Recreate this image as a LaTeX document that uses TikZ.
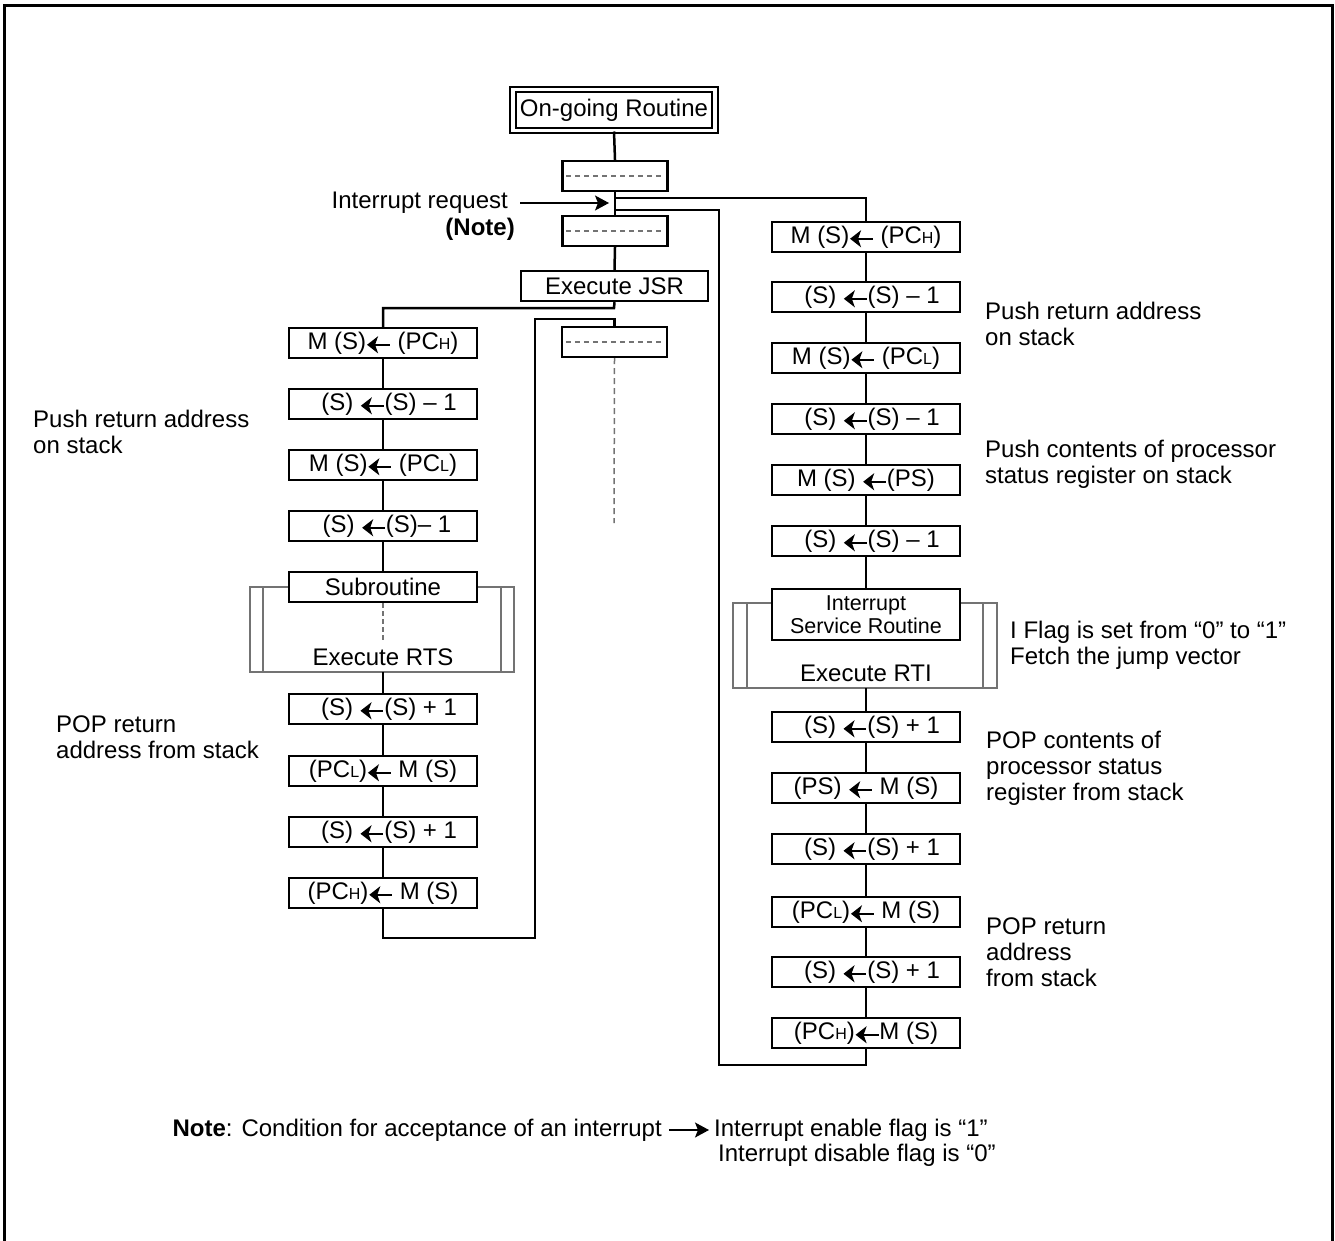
\documentclass[tikz,border=0pt]{standalone}
\usepackage{fontspec}
\setmainfont{Liberation Sans}
\usetikzlibrary{arrows.meta}
\newcommand{\garr}{\tikz[baseline=-0.35ex]\draw[line width=1.6pt,{Stealth[length=11pt,width=17pt,inset=3pt]}-](0pt,0pt)--(23pt,0pt);}
\newcommand{\lowcap}[1]{{\fontsize{16}{18}\selectfont #1}}
\begin{document}
\begin{tikzpicture}[x=1pt,y=-1pt,
  every node/.style={font=\fontsize{24}{26}\selectfont},
  opbox/.style={draw,line width=2.4pt,minimum width=188pt,minimum height=30pt,inner sep=0pt,fill=white},
  dbox/.style={draw,line width=2.4pt,minimum width=105pt,minimum height=30pt,inner sep=0pt},
  conn/.style={line width=2.5pt},
  greyln/.style={draw=black!55,line width=1.2pt},
  lbl/.style={align=left,anchor=west,inner sep=0pt},
  thinarrow/.style={line width=1.2pt,-{Stealth[length=14pt,width=15pt,inset=3pt]}}]
\useasboundingbox (0,0) rectangle (1335,1241);
% frame
\draw[line width=3pt] (4,1241) -- (4,6) -- (1332,6) -- (1332,1241);

% predefined process frames
\draw[greyln] (250,587) rectangle (514,672);
\draw[greyln] (263,587) -- (263,672) (501,587) -- (501,672);
\draw[greyln] (733,603) rectangle (997,688);
\draw[greyln] (747,603) -- (747,688) (983,603) -- (983,688);

% main column
\node[draw,double,double distance=3.5pt,line width=2pt,minimum width=202pt,minimum height=41pt,inner sep=0pt] (ongo) at (614,110) {On-going Routine};
\node[dbox] (d1) at (615,176) {};
\node[dbox] (d2) at (615,231) {};
\node[opbox,minimum width=187pt] (jsr) at (614.5,286) {Execute JSR};
\node[dbox] (d3) at (614.5,342) {};
\foreach \b in {d1,d2,d3}{\draw[greyln,dash pattern=on 5pt off 4pt] ([xshift=5pt]\b.west) -- ([xshift=-6pt]\b.east);}

% left column
\node[opbox] (L1) at (383,343) {M (S)\garr\ (PC\lowcap{H})};
\node[opbox] (L2) at (383,404) {\hspace{12pt}(S) \garr(S) – 1};
\node[opbox] (L3) at (383,465) {M (S)\garr\ (PC\lowcap{L})};
\node[opbox] (L4) at (383,526) {\hspace{8pt}(S) \garr(S)– 1};
\node[opbox] (sub) at (383,587) {Subroutine};
\node[inner sep=0pt] (rts) at (383,657) {Execute RTS};
\node[opbox] (L5) at (383,709) {\hspace{12pt}(S) \garr(S) + 1};
\node[opbox] (L6) at (383,771) {(PC\lowcap{L})\garr\ M (S)};
\node[opbox] (L7) at (383,832) {\hspace{12pt}(S) \garr(S) + 1};
\node[opbox] (L8) at (383,893) {(PC\lowcap{H})\garr\ M (S)};

% right column
\node[opbox] (R1) at (866,237) {M (S)\garr\ (PC\lowcap{H})};
\node[opbox] (R2) at (866,297) {\hspace{12pt}(S) \garr(S) – 1};
\node[opbox] (R3) at (866,358) {M (S)\garr\ (PC\lowcap{L})};
\node[opbox] (R4) at (866,419) {\hspace{12pt}(S) \garr(S) – 1};
\node[opbox] (R5) at (866,480) {M (S) \garr(PS)};
\node[opbox] (R6) at (866,541) {\hspace{12pt}(S) \garr(S) – 1};
\node[opbox,minimum height=51pt,align=center,font=\fontsize{21.5}{23}\selectfont] (isr) at (866,614.5) {Interrupt\\Service Routine};
\node[inner sep=0pt] (rti) at (866,673) {Execute RTI};
\node[opbox] (R7) at (866,727) {\hspace{12pt}(S) \garr(S) + 1};
\node[opbox] (R8) at (866,788) {(PS) \garr\ M (S)};
\node[opbox] (R9) at (866,849) {\hspace{12pt}(S) \garr(S) + 1};
\node[opbox] (R10) at (866,912) {(PC\lowcap{L})\garr\ M (S)};
\node[opbox] (R11) at (866,972) {\hspace{12pt}(S) \garr(S) + 1};
\node[opbox] (R12) at (866,1033) {(PC\lowcap{H})\garr M (S)};

% coordinates
\coordinate (j1) at (614,198);
\coordinate (j2) at (614,210);
\coordinate (rr) at (719,1065);
\coordinate (lj) at (614,308);
\coordinate (lr) at (535,938);
\coordinate (lt) at (535,319);
\coordinate (subd) at (383,640);
\coordinate (lpb) at (383,672);
\coordinate (rpb) at (866,688);
\coordinate (d3end) at (614,523);
\coordinate (irs) at (520,203);
\coordinate (ire) at (609,203);

% connectors main
\draw[conn] (ongo.south) -- (d1.north);
\draw[conn] (d1.south) -- (d2.north);
\draw[conn] (d2.south) -- (jsr.north);
\draw[conn] (j1) -| (R1.north);
\draw[conn] (R12.south) |- (rr) |- (j2);
\draw[conn] (jsr.south) -- (lj) -| (L1.north);
\draw[conn] (L8.south) |- (lr) -- (lt) -| (d3.north);
\draw[greyln,line width=1.5pt,dash pattern=on 6pt off 4pt] (d3.south) -- (d3end);
\draw[thinarrow] (irs) -- (ire);
\node[anchor=east,inner sep=0pt] (irq) at (508,203) {Interrupt request};
\node[anchor=east,inner sep=0pt,font=\fontsize{24}{26}\selectfont\bfseries] (note1) at (515,229) {(Note)};

% left chain
\draw[conn] (L1.south) -- (L2.north);
\draw[conn] (L2.south) -- (L3.north);
\draw[conn] (L3.south) -- (L4.north);
\draw[conn] (L4.south) -- (sub.north);
\draw[greyln,dash pattern=on 5pt off 3pt] (sub.south) -- (subd);
\draw[conn] (lpb) -- (L5.north);
\draw[conn] (L5.south) -- (L6.north);
\draw[conn] (L6.south) -- (L7.north);
\draw[conn] (L7.south) -- (L8.north);

% right chain
\draw[conn] (R1.south) -- (R2.north);
\draw[conn] (R2.south) -- (R3.north);
\draw[conn] (R3.south) -- (R4.north);
\draw[conn] (R4.south) -- (R5.north);
\draw[conn] (R5.south) -- (R6.north);
\draw[conn] (R6.south) -- (isr.north);
\draw[conn] (rpb) -- (R7.north);
\draw[conn] (R7.south) -- (R8.north);
\draw[conn] (R8.south) -- (R9.north);
\draw[conn] (R9.south) -- (R10.north);
\draw[conn] (R10.south) -- (R11.north);
\draw[conn] (R11.south) -- (R12.north);

% labels
\node[lbl] (la1) at (33,432) {Push return address\\on stack};
\node[lbl] (la2) at (56,737) {POP return\\address from stack};
\node[lbl] (ra1) at (985,324) {Push return address\\on stack};
\node[lbl] (ra2) at (985,464) {Push contents of processor\\status register on stack};
\node[lbl] (ra3) at (1010,645) {I Flag is set from “0” to “1”\\Fetch the jump vector};
\node[lbl] (ra4) at (986,768) {POP contents of\\processor status\\register from stack};
\node[lbl] (ra5) at (986,952) {POP return\\address\\from stack};

% note
\node[anchor=east,inner sep=0pt] (nt) at (662,1130) {\textbf{Note}: Condition for acceptance of an interrupt};
\coordinate (nas) at (669,1130);
\coordinate (nae) at (709,1130);
\draw[thinarrow] (nas) -- (nae);
\node[anchor=west,inner sep=0pt] (nt2) at (714,1130) {Interrupt enable flag is “1”};
\node[anchor=west,inner sep=0pt] (nt3) at (718,1155) {Interrupt disable flag is “0”};
\end{tikzpicture}
\end{document}
